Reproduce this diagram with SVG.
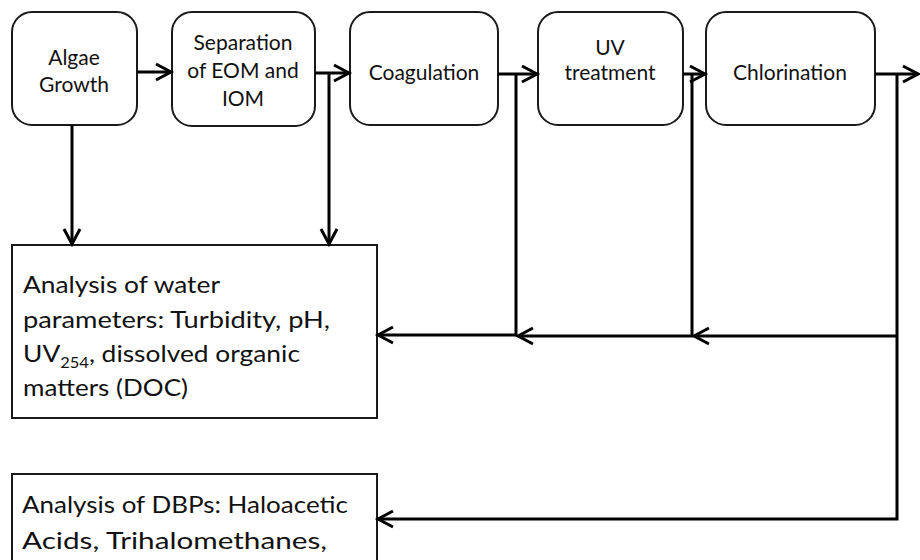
<svg xmlns="http://www.w3.org/2000/svg" width="920" height="560" viewBox="0 0 920 560">
<defs>
<marker id="arr" markerUnits="userSpaceOnUse" viewBox="-20 -12 24 24" refX="0" refY="0" markerWidth="24" markerHeight="24" orient="auto">
<path d="M-15,-8 L0,0 L-15,8" fill="none" stroke="#000" stroke-width="3"/>
</marker>
</defs>
<style>
.step{fill:#fff;stroke:#1a1a1a;stroke-width:2}
.box{fill:#fff;stroke:#1a1a1a;stroke-width:2}
.t{font-family:Lato,"Open Sans",sans-serif;fill:#111;font-size:21px;text-anchor:middle}
.a{font-family:Lato,"Open Sans",sans-serif;fill:#111;font-size:24px}
.c{fill:none;stroke:#000;stroke-width:3}
</style>
<rect width="920" height="560" fill="#fff"/>
<g id="algae">
<rect class="step" x="12" y="12" width="125" height="113" rx="20"/>
<text class="t" x="74" y="65">Algae</text>
<text class="t" x="74" y="92">Growth</text>
</g>
<g id="separation">
<rect class="step" x="172" y="12" width="143" height="114" rx="20"/>
<text class="t" x="243" y="50">Separation</text>
<text class="t" x="243" y="78">of EOM and</text>
<text class="t" x="243" y="106">IOM</text>
</g>
<g id="coagulation">
<rect class="step" x="350" y="12" width="148" height="113" rx="20"/>
<text class="t" x="424" y="80">Coagulation</text>
</g>
<g id="uv">
<rect class="step" x="538" y="12" width="145" height="113" rx="20"/>
<text class="t" x="610" y="55">UV</text>
<text class="t" x="610" y="80">treatment</text>
</g>
<g id="chlorination">
<rect class="step" x="706" y="12" width="169" height="113" rx="20"/>
<text class="t" x="790" y="80">Chlorination</text>
</g>
<g id="water-analysis">
<rect class="box" x="12" y="245" width="365" height="173"/>
<text class="a" x="23" y="293" textLength="197" lengthAdjust="spacingAndGlyphs">Analysis of water</text>
<text class="a" x="23" y="328" textLength="307" lengthAdjust="spacingAndGlyphs">parameters: Turbidity, pH,</text>
<text class="a" x="23" y="362" textLength="277" lengthAdjust="spacingAndGlyphs">UV<tspan font-size="15" dy="6">254</tspan><tspan dy="-6">, dissolved organic</tspan></text>
<text class="a" x="23" y="396" textLength="165" lengthAdjust="spacingAndGlyphs">matters (DOC)</text>
</g>
<g id="dbp-analysis">
<rect class="box" x="12" y="474" width="365" height="110"/>
<text class="a" x="22" y="513" textLength="326" lengthAdjust="spacingAndGlyphs">Analysis of DBPs: Haloacetic</text>
<text class="a" x="22" y="549" textLength="305" lengthAdjust="spacingAndGlyphs">Acids, Trihalomethanes,</text>
</g>
<g id="connectors">
<path class="c" d="M137,72 H171" marker-end="url(#arr)"/>
<path class="c" d="M315,73 H349" marker-end="url(#arr)"/>
<path class="c" d="M498,74 H537" marker-end="url(#arr)"/>
<path class="c" d="M683,74 H705" marker-end="url(#arr)"/>
<path class="c" d="M875,74 H918" marker-end="url(#arr)"/>
<path class="c" d="M72,125 V244" marker-end="url(#arr)"/>
<path class="c" d="M329,73 V244" marker-end="url(#arr)"/>
<path class="c" d="M516,74 V335 H378" marker-end="url(#arr)"/>
<path class="c" d="M692,74 V336 H518" marker-end="url(#arr)"/>
<path class="c" d="M897,74 V519 H378" marker-end="url(#arr)"/>
<path class="c" d="M897,336 H694" marker-end="url(#arr)"/>
</g>
</svg>
